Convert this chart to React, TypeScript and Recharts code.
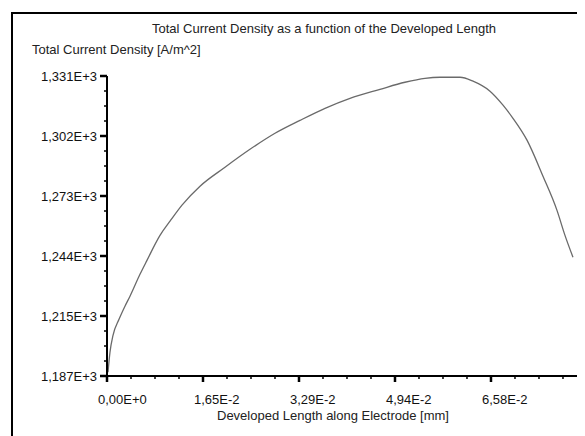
import React from 'react';
import { LineChart, Line, XAxis, YAxis } from 'recharts';

// developed length along electrode [mm]
const lengths = [
  0.00017, 0.00051, 0.00103, 0.00206, 0.00308, 0.00394, 0.00565, 0.00685, 0.00908, 0.0108,
  0.01285, 0.01594, 0.02022, 0.0245, 0.02879, 0.03307, 0.03736, 0.04164, 0.04678, 0.05106,
  0.05449, 0.05706, 0.06049, 0.06272, 0.06563, 0.06786, 0.06957, 0.07197, 0.07471, 0.07711,
  0.07848, 0.07985,
];

// total current density [A/m^2]
const density = [
  1188.8, 1198.4, 1206.5, 1214.2, 1220.5, 1225.3, 1235.8, 1242.5, 1254.5, 1261.3,
  1269.0, 1278.1, 1287.2, 1295.8, 1303.5, 1309.7, 1315.5, 1320.3, 1324.6, 1328.0,
  1329.9, 1330.4, 1330.4, 1328.5, 1323.7, 1317.0, 1310.7, 1300.2, 1282.9, 1266.5,
  1254.5, 1244.0,
];

const xMajorTicks = [0, 0.01645, 0.0329, 0.04935, 0.0658];
const xTickLabels = ['0,00E+0', '1,65E-2', '3,29E-2', '4,94E-2', '6,58E-2'];
const yMajorTicks = [1187, 1215.8, 1244.6, 1273.4, 1302.2, 1331];
const yTickLabels = ['1,187E+3', '1,215E+3', '1,244E+3', '1,273E+3', '1,302E+3', '1,331E+3'];

const X_MAX = 0.08191;

const withMinor = (majors: number[], max: number) => {
  const step = majors[1] - majors[0];
  const out: number[] = [];
  for (let v = majors[0]; v <= max + 1e-9; v += step / 4) out.push(Number(v.toFixed(6)));
  return out;
};

const xTicks = withMinor(xMajorTicks, X_MAX);
const yTicks = withMinor(yMajorTicks, 1331);

const data = lengths.map((l, i) => ({ length: l, density: density[i] }));

const FONT = '"Liberation Sans", Arial, sans-serif';

const majorIndex = (list: number[], v: number) =>
  list.findIndex((m) => Math.abs(m - v) < 1e-6 * Math.max(1, Math.abs(m)));

const XTick = (props: any) => {
  const { x, y, payload } = props;
  const idx = majorIndex(xMajorTicks, payload.value);
  if (idx < 0) {
    return <line x1={x} x2={x} y1={y} y2={y + 3} stroke="#000" strokeWidth={1.5} />;
  }
  return (
    <g>
      <line x1={x} x2={x} y1={y} y2={y + 6} stroke="#000" strokeWidth={2.5} />
      <text x={x - 9} y={y + 28} textAnchor="start" fontSize={13} fontFamily={FONT} fill="#111">
        {xTickLabels[idx]}
      </text>
    </g>
  );
};

const YTick = (props: any) => {
  const { x, y, payload } = props;
  const idx = majorIndex(yMajorTicks, payload.value);
  if (idx < 0) {
    return <line x1={x - 3} x2={x} y1={y} y2={y} stroke="#000" strokeWidth={1.5} />;
  }
  return (
    <g>
      <line x1={x - 7} x2={x} y1={y} y2={y} stroke="#000" strokeWidth={2.5} />
      <text x={x - 10} y={y + 4.5} textAnchor="end" fontSize={13} fontFamily={FONT} fill="#111">
        {yTickLabels[idx]}
      </text>
    </g>
  );
};

const textStyle: React.CSSProperties = {
  position: 'absolute',
  fontFamily: FONT,
  fontSize: 13,
  lineHeight: '16px',
  color: '#222',
  whiteSpace: 'nowrap',
};

export default function App() {
  return (
    <div style={{ position: 'relative', width: 585, height: 436, margin: '-8px 0 0 -8px', background: '#fff', overflow: 'hidden' }}>
      <div
        style={{
          position: 'absolute',
          left: 11,
          top: 12,
          width: 580,
          height: 430,
          borderTop: '2px solid #000',
          borderLeft: '2px solid #000',
        }}
      />
      <div style={{ ...textStyle, left: 152, top: 21 }}>
        Total Current Density as a function of the Developed Length
      </div>
      <div style={{ ...textStyle, left: 32, top: 42 }}>Total Current Density [A/m^2]</div>
      <div style={{ ...textStyle, left: 217, top: 408 }}>Developed Length along Electrode [mm]</div>
      <div style={{ position: 'absolute', left: 0, top: 0 }}>
        <LineChart width={585} height={436} data={data} margin={{ top: 76, right: 0, bottom: 30, left: 0 }}>
          <XAxis
            dataKey="length"
            type="number"
            domain={[0, X_MAX]}
            ticks={xTicks}
            interval={0}
            allowDataOverflow
            height={30}
            tickSize={0}
            tickMargin={0}
            tick={<XTick />}
            axisLine={{ stroke: '#000', strokeWidth: 2 }}
          />
          <YAxis
            type="number"
            domain={[1187, 1331]}
            ticks={yTicks}
            interval={0}
            allowDataOverflow
            width={107}
            tickSize={0}
            tickMargin={0}
            tick={<YTick />}
            axisLine={{ stroke: '#000', strokeWidth: 2 }}
          />
          <Line
            type="monotone"
            dataKey="density"
            stroke="#6a6a6a"
            strokeWidth={1.3}
            dot={false}
            isAnimationActive={false}
          />
        </LineChart>
      </div>
    </div>
  );
}
